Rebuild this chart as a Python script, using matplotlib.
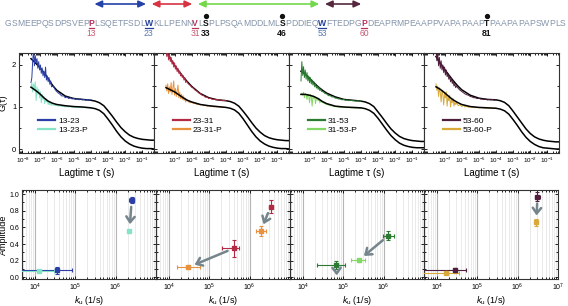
import matplotlib
matplotlib.use('Agg')
import matplotlib.pyplot as plt
import numpy as np
from matplotlib.ticker import (LogLocator, MultipleLocator, FuncFormatter, NullFormatter,
                               FormatStrFormatter, FixedLocator)
from matplotlib.lines import Line2D

plt.rcParams['font.family'] = ['Liberation Sans', 'DejaVu Sans']
plt.rcParams['mathtext.fontset'] = 'custom'
plt.rcParams['mathtext.rm'] = 'Liberation Sans'
plt.rcParams['mathtext.it'] = 'Liberation Sans:italic'
plt.rcParams['mathtext.bf'] = 'Liberation Sans:bold'

# ---------------- sequence header ----------------
seq = "GSMEEPQSDPSVEPPLSQETFSDLWKLLPENNVLSPLPSQAMDDLMLSPDDIEQWFTEDPGPDEAPRMPEAAPPVAPAPAAPTPAAPAPAPSWPLS"
seq_offset = 2            # GS tag in front of residue 1
red_res = [13, 31, 60]
blue_res = [23, 53]
phos_res = [33, 46, 81]
segments = [(13, 23), (23, 31), (31, 53), (53, 60)]
seg_colors = ['#2442a8', '#d63442', '#74d84c', '#55283e']

# ---------------- FCS curves (top row) ----------------
lag_data = [-7.50, -7.45, -7.40, -7.35, -7.30, -7.25, -7.20, -7.15, -7.10, -7.05,
            -7.00, -6.95, -6.90, -6.85, -6.80, -6.75, -6.70, -6.65, -6.60, -6.55,
            -6.50, -6.45, -6.40, -6.35, -6.30, -6.20, -6.10, -6.00, -5.90, -5.80,
            -5.70, -5.60, -5.50, -5.40, -5.30, -5.20, -5.10, -5.00, -4.90, -4.80,
            -4.70, -4.60, -4.50, -4.40, -4.30, -4.20, -4.10, -4.00]
lag_fit = [-7.5, -7.25, -7.0, -6.75, -6.5, -6.25, -6.0, -5.5, -5.0, -4.5, -4.0,
           -3.75, -3.5, -3.25, -3.0, -2.75, -2.5, -2.25, -2.0, -1.75, -1.5, -1.25,
           -1.0, -0.75, -0.5, -0.3]
lag_ticks = [1e-8, 1e-7, 1e-6, 1e-5, 1e-4, 1e-3, 1e-2, 1e-1]

g_13_23 = [1.58, 1.70, 2.10, 2.36, 1.98, 2.22, 2.05, 2.15, 1.92, 2.08, 1.88, 2.00, 1.80,
           1.93, 1.74, 1.85, 1.70, 1.95, 1.64, 1.74, 1.60, 1.70, 1.54, 1.62, 1.48,
           1.50, 1.42, 1.37, 1.33, 1.30, 1.26, 1.27, 1.22, 1.24, 1.20, 1.22, 1.19, 1.21,
           1.18, 1.20, 1.17, 1.19, 1.17, 1.18, 1.16, 1.18, 1.16, 1.17]
g_13_23_p = [1.48, 1.58, 1.36, 1.55, 1.40, 1.60, 1.15, 1.48, 1.30, 1.42, 1.22, 1.36, 1.10,
             1.30, 1.18, 1.25, 1.08, 1.20, 1.12, 1.16, 1.06, 1.12, 1.05, 1.09, 1.04,
             1.06, 1.03, 1.04, 1.02, 1.03, 1.01, 1.02, 1.00, 1.01, 1.00, 1.01, 0.99, 1.00,
             0.99, 1.00, 0.99, 0.99, 0.98, 0.99, 0.98, 0.98, 0.98, 0.98]
fit_13_23 = [2.15, 2.05, 1.95, 1.82, 1.68, 1.52, 1.40, 1.26, 1.20, 1.18, 1.16, 1.14, 1.10,
             1.03, 0.91, 0.78, 0.64, 0.51, 0.41, 0.33, 0.28, 0.25, 0.23, 0.22, 0.21, 0.21]
fit_13_23_p = [1.47, 1.40, 1.32, 1.22, 1.14, 1.09, 1.06, 1.03, 1.01, 1.00, 0.98, 0.96, 0.92,
               0.84, 0.71, 0.57, 0.42, 0.29, 0.19, 0.12, 0.07, 0.04, 0.02, 0.01, 0.01, 0.00]

g_23_31 = [2.40, 2.20, 2.34, 2.12, 2.26, 2.08, 2.18, 2.02, 2.10, 1.95, 2.05, 1.90, 1.98,
           1.84, 1.92, 1.80, 1.86, 1.74, 1.80, 1.70, 1.75, 1.64, 1.70, 1.58, 1.62,
           1.55, 1.52, 1.47, 1.45, 1.40, 1.38, 1.34, 1.32, 1.28, 1.27, 1.23, 1.24, 1.20,
           1.21, 1.18, 1.19, 1.17, 1.18, 1.16, 1.17, 1.15, 1.16, 1.15]
g_23_31_p = [1.52, 1.38, 1.55, 1.32, 1.48, 1.36, 1.58, 1.30, 1.45, 1.62, 1.28, 1.44, 1.25,
             1.38, 1.52, 1.22, 1.35, 1.20, 1.30, 1.18, 1.27, 1.16, 1.22, 1.12, 1.18,
             1.13, 1.10, 1.12, 1.08, 1.09, 1.06, 1.07, 1.05, 1.06, 1.03, 1.04, 1.02, 1.03,
             1.01, 1.02, 1.00, 1.01, 1.00, 1.01, 0.99, 1.00, 0.99, 0.99]
fit_23_31 = [2.35, 2.16, 1.99, 1.85, 1.72, 1.60, 1.49, 1.32, 1.22, 1.17, 1.15, 1.13, 1.09,
             1.02, 0.90, 0.77, 0.63, 0.50, 0.40, 0.32, 0.27, 0.24, 0.22, 0.21, 0.20, 0.20]
fit_23_31_p = [1.46, 1.41, 1.36, 1.29, 1.22, 1.16, 1.12, 1.06, 1.03, 1.01, 0.99, 0.97, 0.93,
               0.85, 0.72, 0.57, 0.42, 0.29, 0.19, 0.12, 0.07, 0.04, 0.02, 0.01, 0.01, 0.00]

g_31_53 = [1.62, 2.08, 1.75, 1.96, 1.70, 1.88, 1.66, 1.82, 1.62, 1.74, 1.58, 1.70, 1.55,
           1.64, 1.52, 1.60, 1.48, 1.55, 1.45, 1.50, 1.42, 1.47, 1.39, 1.43, 1.37,
           1.36, 1.32, 1.31, 1.27, 1.27, 1.24, 1.24, 1.21, 1.21, 1.19, 1.19, 1.17, 1.18,
           1.16, 1.17, 1.15, 1.16, 1.15, 1.15, 1.14, 1.15, 1.14, 1.14]
g_31_53_p = [1.30, 1.33, 1.28, 1.35, 1.22, 1.32, 1.30, 1.18, 1.31, 1.26, 1.10, 1.30, 1.24,
             1.02, 1.27, 1.20, 1.25, 1.08, 1.22, 1.18, 1.15, 1.20, 1.10, 1.16, 1.12,
             1.10, 1.08, 1.06, 1.05, 1.03, 1.03, 1.01, 1.01, 1.00, 1.00, 0.99, 1.00, 0.99,
             0.99, 0.98, 0.99, 0.98, 0.98, 0.98, 0.97, 0.98, 0.97, 0.97]
fit_31_53 = [1.85, 1.78, 1.68, 1.58, 1.48, 1.40, 1.33, 1.24, 1.18, 1.16, 1.14, 1.12, 1.08,
             1.01, 0.88, 0.75, 0.61, 0.48, 0.38, 0.30, 0.25, 0.22, 0.20, 0.19, 0.18, 0.18]
fit_31_53_p = [1.30, 1.30, 1.28, 1.25, 1.20, 1.13, 1.08, 1.02, 1.00, 0.99, 0.98, 0.96, 0.92,
               0.85, 0.73, 0.59, 0.45, 0.32, 0.22, 0.14, 0.09, 0.06, 0.04, 0.03, 0.03, 0.03]

g_53_60 = [2.36, 2.10, 2.30, 1.98, 2.18, 1.92, 2.10, 1.88, 2.00, 1.82, 1.95, 1.76, 1.88,
           1.72, 1.80, 1.66, 1.74, 1.60, 1.68, 1.56, 1.62, 1.50, 1.56, 1.46, 1.50,
           1.44, 1.40, 1.37, 1.34, 1.31, 1.29, 1.28, 1.25, 1.24, 1.22, 1.22, 1.20, 1.21,
           1.19, 1.19, 1.18, 1.19, 1.17, 1.18, 1.17, 1.18, 1.16, 1.17]
g_53_60_p = [1.55, 1.40, 1.50, 1.25, 1.46, 1.35, 1.12, 1.40, 1.30, 1.05, 1.32, 1.22, 1.36,
             1.02, 1.25, 1.15, 1.28, 1.00, 1.18, 1.10, 1.20, 1.02, 1.12, 1.06, 1.10,
             1.03, 1.06, 1.01, 1.04, 1.00, 1.02, 0.99, 1.01, 0.99, 1.00, 0.98, 0.99, 0.98,
             0.99, 0.98, 0.98, 0.97, 0.98, 0.97, 0.98, 0.97, 0.97, 0.97]
fit_53_60 = [2.20, 2.04, 1.90, 1.76, 1.63, 1.51, 1.41, 1.28, 1.21, 1.18, 1.17, 1.15, 1.11,
             1.03, 0.90, 0.76, 0.62, 0.48, 0.37, 0.29, 0.24, 0.21, 0.19, 0.18, 0.17, 0.17]
fit_53_60_p = [1.48, 1.42, 1.34, 1.25, 1.17, 1.11, 1.06, 1.01, 0.99, 0.98, 0.97, 0.95, 0.91,
               0.83, 0.70, 0.56, 0.41, 0.28, 0.18, 0.11, 0.06, 0.03, 0.02, 0.01, 0.00, 0.00]

names = ['13-23', '23-31', '31-53', '53-60']
col_free = ['#2b3fa6', '#b32a45', '#2a7a32', '#4e1e3c']
col_phos = ['#86e3c8', '#e8913e', '#84d865', '#d9a93a']
g_free = [g_13_23, g_23_31, g_31_53, g_53_60]
g_phos = [g_13_23_p, g_23_31_p, g_31_53_p, g_53_60_p]
fit_free = [fit_13_23, fit_23_31, fit_31_53, fit_53_60]
fit_phos = [fit_13_23_p, fit_23_31_p, fit_31_53_p, fit_53_60_p]

# ---------------- k_u vs amplitude (bottom row) ----------------
ku_ticks = [1e4, 1e5, 1e6, 1e7]

ku_13_23 = [3.6e4, 2.5e6]
ku_13_23_lo = [4.0e3, 2.2e6]
ku_13_23_hi = [8.5e4, 2.85e6]
amp_13_23 = [0.085, 0.93]
amp_13_23_err = [0.04, 0.04]
ku_13_23_p = [1.25e4, 2.2e6]
ku_13_23_p_lo = [4.0e3, 2.0e6]
ku_13_23_p_hi = [3.0e4, 2.4e6]
amp_13_23_p = [0.075, 0.555]
amp_13_23_p_err = [0.01, 0.02]

ku_23_31 = [4.1e5, 3.3e6]
ku_23_31_lo = [2.1e5, 3.0e6]
ku_23_31_hi = [5.6e5, 3.6e6]
amp_23_31 = [0.35, 0.85]
amp_23_31_err = [0.10, 0.08]
ku_23_31_p = [3.0e4, 1.9e6]
ku_23_31_p_lo = [1.55e4, 1.4e6]
ku_23_31_p_hi = [5.9e4, 2.6e6]
amp_23_31_p = [0.12, 0.56]
amp_23_31_p_err = [0.02, 0.06]

ku_31_53 = [6.8e4, 1.3e6]
ku_31_53_lo = [2.3e4, 9.5e5]
ku_31_53_hi = [1.1e5, 1.8e6]
amp_31_53 = [0.148, 0.50]
amp_31_53_err = [0.05, 0.055]
ku_31_53_p = [7.0e4, 2.4e5]
ku_31_53_p_lo = [6.0e4, 1.6e5]
ku_31_53_p_hi = [8.0e4, 3.5e5]
amp_31_53_p = [-0.06, 0.204]
amp_31_53_p_err = [0.01, 0.02]

ku_53_60 = [2.8e4, 3.1e6]
ku_53_60_lo = [4.0e3, 2.7e6]
ku_53_60_hi = [5.2e4, 3.6e6]
amp_53_60 = [0.085, 0.97]
amp_53_60_err = [0.03, 0.05]
ku_53_60_p = [1.7e4, 2.9e6]
ku_53_60_p_lo = [4.0e3, 2.7e6]
ku_53_60_p_hi = [3.5e4, 3.1e6]
amp_53_60_p = [0.055, 0.66]
amp_53_60_p_err = [0.015, 0.04]

ku_free = [(ku_13_23, ku_13_23_lo, ku_13_23_hi, amp_13_23, amp_13_23_err),
           (ku_23_31, ku_23_31_lo, ku_23_31_hi, amp_23_31, amp_23_31_err),
           (ku_31_53, ku_31_53_lo, ku_31_53_hi, amp_31_53, amp_31_53_err),
           (ku_53_60, ku_53_60_lo, ku_53_60_hi, amp_53_60, amp_53_60_err)]
ku_phos = [(ku_13_23_p, ku_13_23_p_lo, ku_13_23_p_hi, amp_13_23_p, amp_13_23_p_err),
           (ku_23_31_p, ku_23_31_p_lo, ku_23_31_p_hi, amp_23_31_p, amp_23_31_p_err),
           (ku_31_53_p, ku_31_53_p_lo, ku_31_53_p_hi, amp_31_53_p, amp_31_53_p_err),
           (ku_53_60_p, ku_53_60_p_lo, ku_53_60_p_hi, amp_53_60_p, amp_53_60_p_err)]
arrow_idx = [[1], [0, 1], [0, 1], [1]]

# ---------------- figure ----------------
W, H = 568, 306
fig = plt.figure(figsize=(W / 100, H / 100), dpi=100)
renderer = fig.canvas.get_renderer()

over = fig.add_axes([0, 0, 1, 1])
over.set_xlim(0, W)
over.set_ylim(H, 0)
over.axis('off')


def advance(ch, size, weight):
    t = over.text(0, 0, '|' + ch + '|', fontsize=size, weight=weight)
    w1 = t.get_window_extent(renderer).width
    t.set_text('||')
    w2 = t.get_window_extent(renderer).width
    t.remove()
    return w1 - w2


style = {}
for r in red_res:
    style[r] = ('#b8325a', 'bold', '#c55a74')
for r in blue_res:
    style[r] = ('#24409a', 'bold', '#5a78b0')
for r in phos_res:
    style[r] = ('#111111', 'bold', '#111111')

widths = []
for i, ch in enumerate(seq):
    res = i + 1 - seq_offset
    wt = style[res][1] if res in style else 'normal'
    widths.append(advance(ch, 10, wt))
fs = 10 * 561 / sum(widths)

x = 4.5
centers, cw = {}, {}
for i, ch in enumerate(seq):
    res = i + 1 - seq_offset
    col, wt = (style[res][0], style[res][1]) if res in style else ('#8494aa', 'normal')
    over.text(x, 26.5, ch, fontsize=fs, color=col, weight=wt, ha='left', va='baseline')
    w = widths[i] * fs / 10
    centers[res] = x + w / 2
    cw[res] = w
    x += w

for r in red_res + blue_res:
    over.plot([centers[r] - cw[r] / 2 + 0.3, centers[r] + cw[r] / 2 - 0.3], [28.2, 28.2],
              color=style[r][0], lw=0.9)
for r in phos_res:
    over.plot(centers[r], 15.5, 'o', ms=2.8, color='#111111')
for r in red_res + blue_res + phos_res:
    over.text(centers[r], 33.5, str(r), fontsize=fs, color=style[r][2],
              weight='bold' if r in phos_res else 'normal', ha='center', va='center')
for (a, b), c in zip(segments, seg_colors):
    over.annotate('', xy=(centers[b], 4), xytext=(centers[a], 4),
                  arrowprops=dict(arrowstyle='<|-|>,head_length=0.55,head_width=0.25',
                                  color=c, lw=1.2, shrinkA=2, shrinkB=2, mutation_scale=8))


def log_fmt(v, pos):
    return '$10^{%d}$' % int(round(np.log10(v)))


# top row
top_left = [19, 154, 289, 424]
lag_d = 10.0 ** np.array(lag_data)
lag_f = 10.0 ** np.array(lag_fit)
for p in range(4):
    ax = fig.add_axes([top_left[p] / W, 1 - 153 / H, 135 / W, 100 / H])
    ax.plot(lag_f, fit_free[p], color='k', lw=1.1, zorder=2)
    ax.plot(lag_d, g_free[p], color=col_free[p], lw=0.7, zorder=3)
    ax.plot(lag_d, g_phos[p], color=col_phos[p], lw=0.7, zorder=3)
    ax.plot(lag_f, fit_phos[p], color='k', lw=1.1, zorder=4)
    ax.set_xscale('log')
    ax.set_xlim(10 ** -8.2, 10 ** -0.32)
    ax.set_ylim(-0.095, 2.285)
    # first panel labels 10^-8, the others start at 10^-7
    ax.xaxis.set_major_locator(FixedLocator(lag_ticks if p == 0 else lag_ticks[1:]))
    ax.xaxis.set_minor_locator(LogLocator(base=10, subs=np.arange(2, 10), numticks=20))
    ax.xaxis.set_minor_formatter(NullFormatter())
    ax.xaxis.set_major_formatter(FuncFormatter(log_fmt))
    ax.yaxis.set_major_locator(MultipleLocator(1))
    ax.yaxis.set_minor_locator(MultipleLocator(0.5))
    ax.tick_params(which='both', direction='in', top=True, right=True, labelsize=4.5,
                   width=0.6, pad=2)
    ax.tick_params(axis='y', labelsize=5.5)
    ax.tick_params(which='major', length=2.5)
    ax.tick_params(which='minor', length=1.3)
    if p == 0:
        ax.set_ylabel('G(τ)', fontsize=6.5, labelpad=3)
    else:
        ax.tick_params(axis='y', labelleft=False)
    ax.set_xlabel('Lagtime τ (s)', fontsize=7, labelpad=2)
    for s in ax.spines.values():
        s.set_linewidth(0.8)
        s.set_color('#333333')
    handles = [Line2D([], [], color=col_free[p], lw=1.6), Line2D([], [], color=col_phos[p], lw=1.6)]
    ax.legend(handles, [names[p], names[p] + '-P'], loc='upper left', bbox_to_anchor=(0.14, 0.36),
              frameon=False, fontsize=6, handlelength=2.0, handletextpad=0.4,
              labelspacing=0.15, borderpad=0, borderaxespad=0)

# bottom row
bot_left = [22, 156, 290, 424]
for p in range(4):
    ax = fig.add_axes([bot_left[p] / W, 1 - 279 / H, 134 / W, 89 / H])
    for (k, lo, hi, a, ae), c in [(ku_free[p], col_free[p]), (ku_phos[p], col_phos[p])]:
        k = np.array(k)
        ax.errorbar(k, a, xerr=[k - np.array(lo), np.array(hi) - k], yerr=ae, fmt='s', ms=2.4,
                    color=c, ecolor=c, elinewidth=0.8, capsize=1.5, capthick=0.8, zorder=3)
    kf, _, _, af, _ = ku_free[p]
    kp, _, _, ap, _ = ku_phos[p]
    for i in arrow_idx[p]:
        ax.annotate('', xy=(kp[i], ap[i]), xytext=(kf[i], af[i]), annotation_clip=False,
                    arrowprops=dict(arrowstyle='->,head_length=0.4,head_width=0.3', color='#74858c',
                                    lw=1.8, shrinkA=5, shrinkB=5, mutation_scale=10), zorder=4)
    ax.set_xscale('log')
    ax.set_xlim(4.8e3, 1e7)
    ax.set_ylim(-0.02, 1.05)
    # only the last panel reaches 10^7
    ax.xaxis.set_major_locator(FixedLocator(ku_ticks if p == 3 else ku_ticks[:3]))
    ax.xaxis.set_minor_locator(LogLocator(base=10, subs=np.arange(2, 10), numticks=20))
    ax.xaxis.set_minor_formatter(NullFormatter())
    ax.xaxis.set_major_formatter(FuncFormatter(log_fmt))
    ax.grid(True, which='major', axis='x', color='#b5b5b5', lw=0.8, zorder=0)
    ax.grid(True, which='minor', axis='x', color='#e2e2e2', lw=0.5, zorder=0)
    ax.set_axisbelow(True)
    ax.yaxis.set_major_locator(MultipleLocator(0.2))
    ax.yaxis.set_minor_locator(MultipleLocator(0.1))
    ax.yaxis.set_major_formatter(FormatStrFormatter('%.1f'))
    ax.tick_params(which='both', direction='in', top=True, right=True, labelsize=5,
                   width=0.6, pad=2)
    ax.tick_params(which='major', length=2.5)
    ax.tick_params(which='minor', length=1.3)
    if p == 0:
        ax.set_ylabel('Amplitude', fontsize=6.5, labelpad=1)
    else:
        ax.tick_params(axis='y', labelleft=False)
    ax.set_xlabel('$k_\\mathrm{u}$ (1/s)', fontsize=6.5, labelpad=0.5)
    for s in ax.spines.values():
        s.set_linewidth(0.8)
        s.set_color('#333333')

fig.savefig('out.png', dpi=100)
